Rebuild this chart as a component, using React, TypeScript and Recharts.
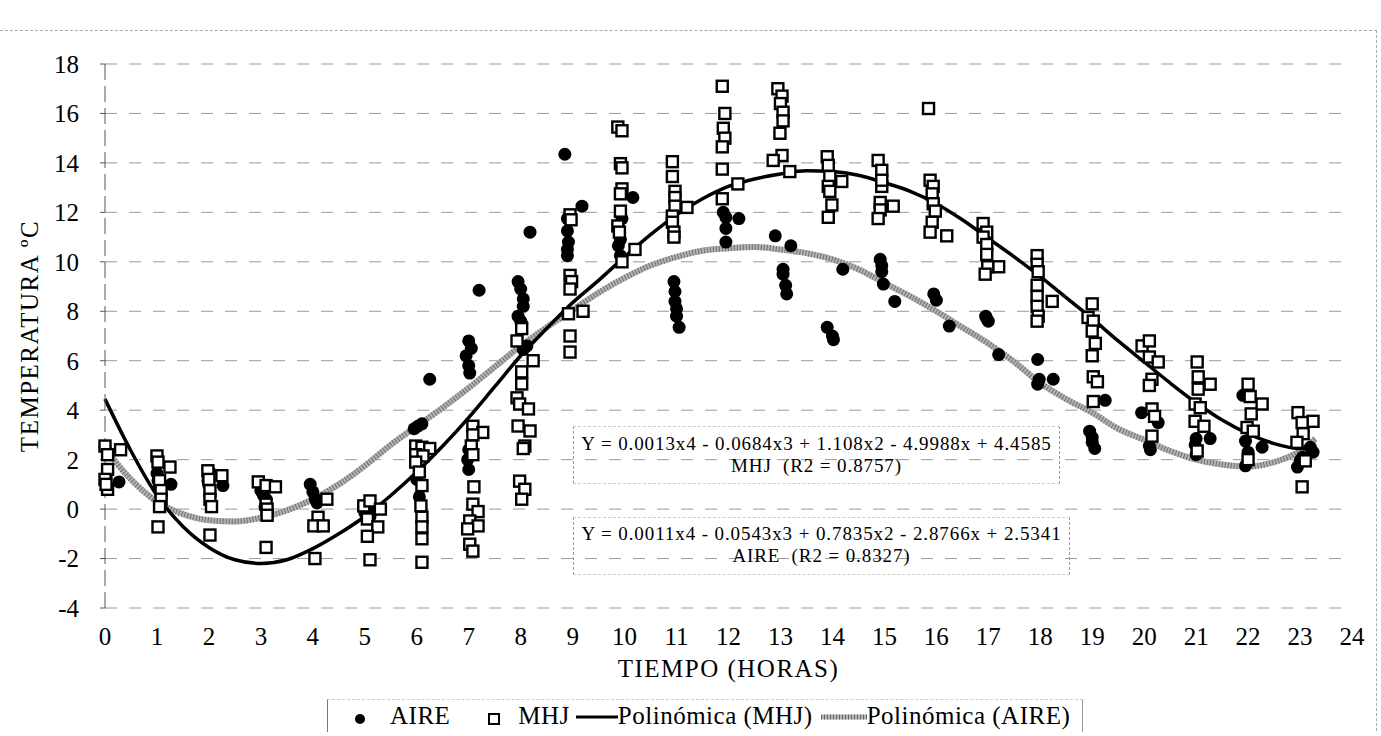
import React from 'react';
import { ComposedChart, Scatter, Line, XAxis, YAxis, CartesianGrid, Legend, Label } from 'recharts';

const FONT = '"Liberation Serif", "DejaVu Serif", "Times New Roman", Times, serif';

const hourTicks = [0, 1, 2, 3, 4, 5, 6, 7, 8, 9, 10, 11, 12, 13, 14, 15, 16, 17, 18, 19, 20, 21, 22, 23, 24];
const tempTicks = [-4, -2, 0, 2, 4, 6, 8, 10, 12, 14, 16, 18];

// air temperature readings (filled dots)
const aire = [
  { x: 0.0, y: 2.5 }, { x: 0.02, y: 1.3 }, { x: 0.27, y: 1.1 },
  { x: 1.0, y: 1.45 }, { x: 1.02, y: 1.15 }, { x: 1.27, y: 1.0 }, { x: 1.05, y: 0.9 },
  { x: 1.98, y: 1.15 }, { x: 2.0, y: 0.95 }, { x: 2.27, y: 0.95 }, { x: 2.02, y: 1.5 },
  { x: 3.0, y: 0.75 }, { x: 3.1, y: 0.4 }, { x: 3.08, y: 0.1 }, { x: 3.05, y: 0.55 },
  { x: 3.95, y: 1.0 }, { x: 4.0, y: 0.7 }, { x: 4.08, y: 0.25 }, { x: 4.05, y: 0.4 },
  { x: 5.0, y: -0.15 }, { x: 5.05, y: 0.05 }, { x: 5.1, y: -0.3 },
  { x: 5.95, y: 3.25 }, { x: 6.1, y: 3.45 }, { x: 6.02, y: 3.35 }, { x: 6.25, y: 5.25 }, { x: 6.05, y: 1.5 }, { x: 6.05, y: 0.5 }, { x: 6.0, y: 1.2 },
  { x: 7.0, y: 6.8 }, { x: 6.95, y: 6.2 }, { x: 7.0, y: 5.8 }, { x: 7.02, y: 5.5 }, { x: 7.2, y: 8.85 }, { x: 7.0, y: 2.4 }, { x: 6.98, y: 2.0 }, { x: 7.0, y: 1.6 }, { x: 7.05, y: 6.5 },
  { x: 7.95, y: 9.2 }, { x: 8.0, y: 8.9 }, { x: 8.05, y: 8.5 }, { x: 8.05, y: 8.2 }, { x: 7.95, y: 7.8 }, { x: 8.0, y: 7.6 }, { x: 8.02, y: 7.5 }, { x: 8.12, y: 6.6 }, { x: 8.05, y: 6.45 }, { x: 8.18, y: 11.2 },
  { x: 8.85, y: 14.35 }, { x: 9.18, y: 12.25 }, { x: 8.9, y: 11.75 }, { x: 8.9, y: 11.25 }, { x: 8.92, y: 10.8 }, { x: 8.9, y: 10.5 }, { x: 8.9, y: 10.25 },
  { x: 10.16, y: 12.6 }, { x: 9.95, y: 11.75 }, { x: 9.9, y: 11.25 }, { x: 9.92, y: 10.9 }, { x: 9.88, y: 10.65 }, { x: 9.92, y: 10.25 },
  { x: 10.95, y: 9.2 }, { x: 10.97, y: 8.8 }, { x: 10.97, y: 8.4 }, { x: 11.0, y: 8.1 }, { x: 11.0, y: 7.8 }, { x: 11.05, y: 7.35 },
  { x: 11.9, y: 12.0 }, { x: 11.95, y: 11.8 }, { x: 12.2, y: 11.75 }, { x: 11.95, y: 11.35 }, { x: 11.95, y: 10.8 },
  { x: 12.9, y: 11.05 }, { x: 13.2, y: 10.65 }, { x: 13.05, y: 9.7 }, { x: 13.05, y: 9.5 }, { x: 13.1, y: 9.05 }, { x: 13.12, y: 8.7 },
  { x: 14.2, y: 9.7 }, { x: 13.9, y: 7.35 }, { x: 14.0, y: 7.0 }, { x: 14.02, y: 6.85 },
  { x: 14.92, y: 10.1 }, { x: 14.95, y: 9.6 }, { x: 14.98, y: 9.1 }, { x: 15.2, y: 8.4 }, { x: 14.95, y: 9.85 },
  { x: 15.95, y: 8.7 }, { x: 16.0, y: 8.45 }, { x: 16.25, y: 7.4 },
  { x: 16.95, y: 7.8 }, { x: 17.0, y: 7.6 }, { x: 17.2, y: 6.25 }, { x: 16.97, y: 7.7 },
  { x: 17.95, y: 6.05 }, { x: 17.98, y: 5.25 }, { x: 17.95, y: 5.05 }, { x: 18.25, y: 5.25 },
  { x: 19.25, y: 4.4 }, { x: 18.95, y: 3.15 }, { x: 19.0, y: 2.9 }, { x: 19.05, y: 2.45 }, { x: 19.0, y: 2.7 },
  { x: 19.95, y: 3.9 }, { x: 20.27, y: 3.5 }, { x: 20.1, y: 2.55 }, { x: 20.12, y: 2.4 },
  { x: 21.0, y: 2.85 }, { x: 21.27, y: 2.85 }, { x: 20.98, y: 2.6 }, { x: 21.0, y: 2.2 },
  { x: 21.9, y: 4.6 }, { x: 21.95, y: 2.75 }, { x: 22.27, y: 2.5 }, { x: 22.0, y: 2.3 }, { x: 21.95, y: 1.75 },
  { x: 23.25, y: 2.3 }, { x: 23.0, y: 1.95 }, { x: 22.95, y: 1.7 }, { x: 23.2, y: 2.5 }, { x: 23.05, y: 2.1 },
];

// MHJ readings (open squares)
const mhj = [
  { x: 0.0, y: 2.55 }, { x: 0.05, y: 2.2 }, { x: 0.3, y: 2.4 }, { x: 0.05, y: 1.6 }, { x: 0.0, y: 1.2 }, { x: 0.05, y: 0.8 }, { x: 0.02, y: 1.0 },
  { x: 1.0, y: 2.15 }, { x: 1.02, y: 1.9 }, { x: 1.25, y: 1.7 }, { x: 1.05, y: 1.15 }, { x: 1.08, y: 0.75 }, { x: 1.08, y: 0.4 }, { x: 1.05, y: 0.1 }, { x: 1.02, y: -0.72 },
  { x: 1.98, y: 1.55 }, { x: 2.25, y: 1.35 }, { x: 2.02, y: 0.75 }, { x: 2.02, y: 0.4 }, { x: 2.05, y: 0.1 }, { x: 2.02, y: -1.05 }, { x: 2.0, y: 1.2 },
  { x: 2.95, y: 1.1 }, { x: 3.1, y: 0.95 }, { x: 3.28, y: 0.9 }, { x: 3.1, y: 0.2 }, { x: 3.12, y: 0.0 }, { x: 3.12, y: -0.25 }, { x: 3.1, y: -1.55 },
  { x: 4.27, y: 0.4 }, { x: 4.1, y: -0.33 }, { x: 4.02, y: -0.68 }, { x: 4.2, y: -0.68 }, { x: 4.04, y: -2.0 },
  { x: 4.98, y: 0.13 }, { x: 5.1, y: 0.33 }, { x: 5.3, y: 0.0 }, { x: 5.05, y: -0.4 }, { x: 5.25, y: -0.72 }, { x: 5.05, y: -1.1 }, { x: 5.1, y: -2.05 },
  { x: 5.98, y: 2.55 }, { x: 6.1, y: 2.5 }, { x: 6.25, y: 2.45 }, { x: 5.98, y: 2.2 }, { x: 6.12, y: 2.15 }, { x: 5.98, y: 1.9 }, { x: 6.05, y: 1.5 }, { x: 6.1, y: 0.95 }, { x: 6.08, y: 0.13 }, { x: 6.1, y: -0.33 }, { x: 6.1, y: -0.72 }, { x: 6.1, y: -1.2 }, { x: 6.1, y: -2.15 },
  { x: 7.08, y: 3.35 }, { x: 7.27, y: 3.1 }, { x: 7.08, y: 3.0 }, { x: 7.05, y: 2.55 }, { x: 7.08, y: 2.2 }, { x: 7.1, y: 0.9 }, { x: 7.08, y: 0.2 }, { x: 7.18, y: -0.1 }, { x: 7.02, y: -0.48 }, { x: 7.18, y: -0.68 }, { x: 6.98, y: -0.8 }, { x: 7.02, y: -1.42 }, { x: 7.08, y: -1.7 },
  { x: 8.02, y: 7.3 }, { x: 7.93, y: 6.8 }, { x: 8.24, y: 6.0 }, { x: 8.02, y: 5.55 }, { x: 8.02, y: 5.06 }, { x: 7.93, y: 4.5 }, { x: 7.98, y: 4.25 }, { x: 8.15, y: 4.05 }, { x: 7.95, y: 3.36 }, { x: 8.18, y: 3.16 }, { x: 8.08, y: 2.55 }, { x: 8.05, y: 2.45 }, { x: 7.98, y: 1.13 }, { x: 8.08, y: 0.8 }, { x: 8.02, y: 0.4 },
  { x: 8.95, y: 11.9 }, { x: 8.97, y: 11.7 }, { x: 8.95, y: 9.45 }, { x: 8.98, y: 9.2 }, { x: 8.95, y: 8.9 }, { x: 9.2, y: 8.0 }, { x: 8.92, y: 7.9 }, { x: 8.95, y: 7.0 }, { x: 8.95, y: 6.35 },
  { x: 9.87, y: 15.45 }, { x: 9.95, y: 15.3 }, { x: 9.92, y: 13.97 }, { x: 9.95, y: 13.8 }, { x: 9.95, y: 12.95 }, { x: 9.92, y: 12.75 }, { x: 9.92, y: 12.05 }, { x: 9.87, y: 11.45 }, { x: 10.2, y: 10.5 }, { x: 9.95, y: 10.0 }, { x: 9.9, y: 11.2 },
  { x: 10.92, y: 14.05 }, { x: 10.92, y: 13.45 }, { x: 10.97, y: 12.85 }, { x: 10.97, y: 12.6 }, { x: 10.97, y: 12.25 }, { x: 11.2, y: 12.2 }, { x: 10.92, y: 11.85 }, { x: 10.92, y: 11.6 }, { x: 10.95, y: 11.2 }, { x: 10.95, y: 11.0 },
  { x: 11.88, y: 17.1 }, { x: 11.93, y: 16.0 }, { x: 11.9, y: 15.4 }, { x: 11.93, y: 15.0 }, { x: 11.88, y: 14.65 }, { x: 11.88, y: 13.75 }, { x: 12.18, y: 13.15 }, { x: 11.88, y: 12.55 },
  { x: 12.95, y: 17.0 }, { x: 13.03, y: 16.7 }, { x: 13.0, y: 16.4 }, { x: 13.05, y: 16.05 }, { x: 13.05, y: 15.7 }, { x: 12.99, y: 15.2 }, { x: 13.03, y: 14.3 }, { x: 12.86, y: 14.1 }, { x: 13.18, y: 13.65 },
  { x: 13.9, y: 14.25 }, { x: 13.92, y: 13.9 }, { x: 13.95, y: 13.45 }, { x: 14.18, y: 13.25 }, { x: 13.92, y: 13.05 }, { x: 13.95, y: 12.85 }, { x: 13.99, y: 12.3 }, { x: 13.92, y: 11.8 },
  { x: 14.88, y: 14.1 }, { x: 14.95, y: 13.7 }, { x: 14.95, y: 13.05 }, { x: 14.92, y: 12.4 }, { x: 14.92, y: 12.1 }, { x: 14.88, y: 11.75 }, { x: 15.17, y: 12.25 }, { x: 14.95, y: 13.3 },
  { x: 15.85, y: 16.2 }, { x: 15.88, y: 13.3 }, { x: 15.94, y: 13.05 }, { x: 15.92, y: 12.75 }, { x: 15.94, y: 12.35 }, { x: 15.98, y: 12.05 }, { x: 15.92, y: 11.6 }, { x: 15.88, y: 11.2 }, { x: 16.2, y: 11.05 },
  { x: 16.9, y: 11.55 }, { x: 16.97, y: 11.2 }, { x: 16.9, y: 11.0 }, { x: 16.97, y: 10.7 }, { x: 16.97, y: 10.3 }, { x: 17.2, y: 9.8 }, { x: 16.99, y: 9.8 }, { x: 16.94, y: 9.5 },
  { x: 17.94, y: 10.25 }, { x: 17.94, y: 9.9 }, { x: 17.96, y: 9.6 }, { x: 17.94, y: 9.05 }, { x: 17.94, y: 8.6 }, { x: 17.94, y: 8.2 }, { x: 18.23, y: 8.4 }, { x: 17.96, y: 7.8 }, { x: 17.94, y: 7.6 },
  { x: 19.0, y: 8.3 }, { x: 18.92, y: 7.75 }, { x: 19.02, y: 7.6 }, { x: 19.0, y: 7.2 }, { x: 19.06, y: 6.7 }, { x: 19.0, y: 6.2 }, { x: 19.02, y: 5.35 }, { x: 19.1, y: 5.15 }, { x: 19.02, y: 4.35 },
  { x: 19.96, y: 6.6 }, { x: 20.1, y: 6.8 }, { x: 20.1, y: 6.15 }, { x: 20.27, y: 5.95 }, { x: 20.15, y: 5.25 }, { x: 20.1, y: 5.0 }, { x: 20.15, y: 4.05 }, { x: 20.2, y: 3.75 }, { x: 20.15, y: 2.95 },
  { x: 21.02, y: 5.95 }, { x: 21.04, y: 5.35 }, { x: 21.27, y: 5.05 }, { x: 21.04, y: 4.85 }, { x: 20.98, y: 4.25 }, { x: 21.08, y: 4.1 }, { x: 20.98, y: 3.55 }, { x: 21.15, y: 3.35 }, { x: 21.02, y: 2.35 },
  { x: 22.0, y: 5.05 }, { x: 22.04, y: 4.55 }, { x: 22.27, y: 4.25 }, { x: 22.06, y: 3.85 }, { x: 21.98, y: 3.3 }, { x: 22.1, y: 3.15 }, { x: 22.0, y: 2.0 },
  { x: 22.96, y: 3.9 }, { x: 23.25, y: 3.55 }, { x: 23.04, y: 3.5 }, { x: 23.06, y: 3.05 }, { x: 22.94, y: 2.7 }, { x: 23.1, y: 1.95 }, { x: 23.04, y: 0.9 },
];

// trendlines
const mhjFit = [
  { x: 0, y: 4.45 }, { x: 0.5, y: 2.35 }, { x: 1, y: 0.55 }, { x: 1.5, y: -0.7 }, { x: 2, y: -1.55 }, { x: 2.5, y: -2.05 },
  { x: 3, y: -2.2 }, { x: 3.5, y: -2.05 }, { x: 4, y: -1.6 }, { x: 4.5, y: -1.0 }, { x: 5, y: -0.3 }, { x: 5.5, y: 0.55 },
  { x: 6, y: 1.5 }, { x: 6.5, y: 2.55 }, { x: 7, y: 3.7 }, { x: 7.5, y: 4.95 }, { x: 8, y: 6.2 }, { x: 8.5, y: 7.3 },
  { x: 9, y: 8.35 }, { x: 9.5, y: 9.25 }, { x: 10, y: 10.2 }, { x: 10.5, y: 11.1 }, { x: 11, y: 11.9 }, { x: 11.5, y: 12.55 },
  { x: 12, y: 13.05 }, { x: 12.5, y: 13.35 }, { x: 13, y: 13.55 }, { x: 13.5, y: 13.68 }, { x: 14, y: 13.65 }, { x: 14.5, y: 13.5 },
  { x: 15, y: 13.2 }, { x: 15.5, y: 12.85 }, { x: 16, y: 12.35 }, { x: 16.5, y: 11.7 }, { x: 17, y: 10.95 }, { x: 17.5, y: 10.2 },
  { x: 18, y: 9.4 }, { x: 18.5, y: 8.55 }, { x: 19, y: 7.7 }, { x: 19.5, y: 6.8 }, { x: 20, y: 5.95 }, { x: 20.5, y: 5.1 },
  { x: 21, y: 4.3 }, { x: 21.5, y: 3.6 }, { x: 22, y: 3.05 }, { x: 22.5, y: 2.65 }, { x: 23, y: 2.45 }, { x: 23.3, y: 2.45 },
];

const aireFit = [
  { x: 0, y: 2.45 }, { x: 0.5, y: 1.2 }, { x: 1, y: 0.3 }, { x: 1.5, y: -0.2 }, { x: 2, y: -0.45 }, { x: 2.5, y: -0.5 },
  { x: 3, y: -0.35 }, { x: 3.5, y: -0.05 }, { x: 4, y: 0.4 }, { x: 4.5, y: 1.0 }, { x: 5, y: 1.75 }, { x: 5.5, y: 2.6 },
  { x: 6, y: 3.35 }, { x: 6.5, y: 4.1 }, { x: 7, y: 4.9 }, { x: 7.5, y: 5.75 }, { x: 8, y: 6.6 }, { x: 8.5, y: 7.35 },
  { x: 9, y: 8.05 }, { x: 9.5, y: 8.75 }, { x: 10, y: 9.35 }, { x: 10.5, y: 9.85 }, { x: 11, y: 10.2 }, { x: 11.5, y: 10.45 },
  { x: 12, y: 10.55 }, { x: 12.5, y: 10.6 }, { x: 13, y: 10.5 }, { x: 13.5, y: 10.35 }, { x: 14, y: 10.1 }, { x: 14.5, y: 9.7 },
  { x: 15, y: 9.15 }, { x: 15.5, y: 8.6 }, { x: 16, y: 8.0 }, { x: 16.5, y: 7.35 }, { x: 17, y: 6.7 }, { x: 17.5, y: 5.95 },
  { x: 18, y: 5.1 }, { x: 18.5, y: 4.45 }, { x: 19, y: 3.9 }, { x: 19.5, y: 3.25 }, { x: 20, y: 2.8 }, { x: 20.5, y: 2.35 },
  { x: 21, y: 2.0 }, { x: 21.5, y: 1.8 }, { x: 22, y: 1.72 }, { x: 22.5, y: 1.9 }, { x: 23, y: 2.35 }, { x: 23.3, y: 2.85 },
];

const mhjEquation = ['Y = 0.0013x4 - 0.0684x3 + 1.108x2 - 4.9988x + 4.4585', 'MHJ  (R2 = 0.8757)'];
const aireEquation = ['Y = 0.0011x4 - 0.0543x3 + 0.7835x2 - 2.8766x + 2.5341', 'AIRE  (R2 = 0.8327)'];

const DotShape = (props: any) => <circle cx={props.cx} cy={props.cy} r={6.5} fill="#000" />;
const SquareShape = (props: any) => (
  <rect x={props.cx - 5.5} y={props.cy - 5.5} width={11} height={11} fill="#fff" stroke="#000" strokeWidth={2.4} />
);

const EquationBox = ({ lines, style }: { lines: string[]; style: React.CSSProperties }) => (
  <div
    style={{
      position: 'absolute',
      boxSizing: 'border-box',
      borderLeft: '1px dashed #999',
      borderTop: '1px dashed #ccc',
      borderRight: '1px dashed #999',
      borderBottom: '1px dashed #ccc',
      textAlign: 'center',
      fontFamily: FONT,
      fontSize: 19,
      lineHeight: '22px',
      letterSpacing: 0.9,
      color: '#000',
      whiteSpace: 'pre',
      ...style,
    }}
  >
    {lines.map((l) => (
      <div key={l}>{l}</div>
    ))}
  </div>
);

const LegendContent = () => (
  <div
    style={{
      display: 'flex',
      alignItems: 'center',
      fontFamily: FONT,
      fontSize: 25,
      letterSpacing: 0.5,
      color: '#000',
      borderLeft: '1px solid #777',
      borderRight: '1px solid #999',
      borderTop: '1px dashed #ccc',
      height: 32,
      paddingLeft: 22,
      paddingRight: 12,
      width: 'fit-content',
      whiteSpace: 'pre',
    }}
  >
    <svg width={20} height={20}><circle cx={10} cy={13} r={5} fill="#000" /></svg>
    <span style={{ marginLeft: 20, marginRight: 34 }}>AIRE</span>
    <svg width={20} height={20}><rect x={5} y={8} width={10} height={10} fill="#fff" stroke="#000" strokeWidth={2} /></svg>
    <span style={{ marginLeft: 14, marginRight: 6 }}>MHJ</span>
    <svg width={42} height={20}><line x1={0} y1={11} x2={42} y2={11} stroke="#000" strokeWidth={3} /></svg>
    <span style={{ marginRight: 8 }}>Polinómica (MHJ)</span>
    <svg width={46} height={20}>
      <line x1={0} y1={11} x2={46} y2={11} stroke="#b3b3b3" strokeWidth={5} />
      <line x1={0} y1={11} x2={46} y2={11} stroke="#666" strokeWidth={5} strokeDasharray="1 2" />
    </svg>
    <span>Polinómica (AIRE)</span>
  </div>
);

export default function App() {
  return (
    <div style={{ position: 'absolute', left: 0, top: 0, width: 1381, height: 736, background: '#fff', fontFamily: FONT }}>
      <div style={{ position: 'absolute', left: 0, top: 30, width: 1376, height: 700, borderTop: '1px dashed #aaa', borderRight: '1px dashed #aaa' }} />
      <ComposedChart width={1381} height={736} margin={{ top: 64, right: 29, bottom: 28, left: 5 }}>
        <CartesianGrid vertical={false} stroke="#999" strokeDasharray="12 12" />
        <XAxis
          type="number"
          dataKey="x"
          domain={[0, 24]}
          ticks={hourTicks}
          interval={0}
          axisLine={false}
          tickLine={false}
          tickSize={0}
          tickMargin={19}
          height={100}
          tick={{ fontSize: 25, fill: '#000', fontFamily: FONT }}
        >
          <Label value="TIEMPO (HORAS)" position="insideTop" offset={51} style={{ fontSize: 25, letterSpacing: 1.5, fill: '#000', fontFamily: FONT }} />
        </XAxis>
        <YAxis
          type="number"
          dataKey="y"
          domain={[-4, 18]}
          ticks={tempTicks}
          interval={0}
          width={100}
          axisLine={{ stroke: '#555', strokeDasharray: '16 6' }}
          tickLine={{ stroke: '#555' }}
          tickSize={5}
          tickMargin={21}
          tick={{ fontSize: 25, fill: '#000', fontFamily: FONT }}
        >
          <Label value="TEMPERATURA ºC" angle={-90} position="insideLeft" offset={24} style={{ textAnchor: 'middle', fontSize: 25, letterSpacing: 1.5, fill: '#000', fontFamily: FONT }} />
        </YAxis>
        <Line data={aireFit} dataKey="y" type="monotone" stroke="#b3b3b3" strokeWidth={6} dot={false} isAnimationActive={false} />
        <Line data={aireFit} dataKey="y" type="monotone" stroke="#707070" strokeWidth={6} strokeDasharray="1 2" dot={false} isAnimationActive={false} />
        <Line data={mhjFit} dataKey="y" type="monotone" stroke="#000" strokeWidth={3.5} dot={false} isAnimationActive={false} />
        <Scatter name="AIRE" data={aire} shape={DotShape} isAnimationActive={false} />
        <Scatter name="MHJ" data={mhj} shape={SquareShape} isAnimationActive={false} />
        <Legend
          layout="horizontal"
          verticalAlign="middle"
          align="center"
          content={LegendContent}
          wrapperStyle={{ top: 699, left: 327, width: 800, height: 34 }}
        />
      </ComposedChart>
      <EquationBox lines={mhjEquation} style={{ left: 573, top: 426, width: 487, height: 58, paddingTop: 6 }} />
      <EquationBox lines={aireEquation} style={{ left: 573, top: 517, width: 497, height: 58, paddingTop: 5 }} />
    </div>
  );
}
